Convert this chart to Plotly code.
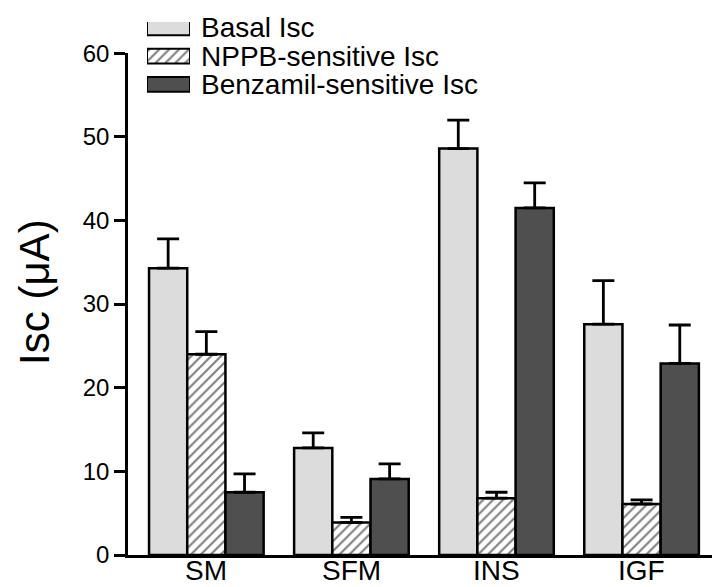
import plotly.graph_objects as go

categories = ["SM", "SFM", "INS", "IGF"]
basal = [34.3, 12.8, 48.6, 27.6]
basal_err = [3.5, 1.8, 3.4, 5.2]
nppb = [24.0, 3.9, 6.8, 6.1]
nppb_err = [2.7, 0.6, 0.7, 0.5]
benz = [7.5, 9.1, 41.5, 22.9]
benz_err = [2.2, 1.8, 3.0, 4.6]
series_names = ["Basal Isc", "NPPB-sensitive Isc", "Benzamil-sensitive Isc"]
yticks = [0, 10, 20, 30, 40, 50, 60]

FONT = "Liberation Sans, Arial, Helvetica, sans-serif"
OFF = 8  # default body margin of the written page
W, H = 720 - OFF, 587 - OFF
AXIS_X, AXIS_Y, TOP_Y, RIGHT_X = 128, 555, 40, 717   # page pixels in the reference
L = AXIS_X - OFF
R = (720 - RIGHT_X)
B = H - (AXIS_Y - OFF)
T = 0
PW, PH = W - L - R, H - T - B

def xpaper(page_x):
    return (page_x - OFF - L) / PW

def ypaper(page_y):
    return (H - B - (page_y - OFF)) / PH

styles = [
    dict(color="#dcdcdc", line=dict(color="black", width=2.5)),
    dict(color="white", line=dict(color="black", width=2.5),
         pattern=dict(shape="/", fgcolor="black", bgcolor="white", size=7, solidity=0.3)),
    dict(color="#4f4f4f", line=dict(color="black", width=2.5)),
]
values = [basal, nppb, benz]
errors = [basal_err, nppb_err, benz_err]

def err(vals):
    return dict(type="data", symmetric=False, array=vals, arrayminus=[0] * len(vals),
                color="black", thickness=2.8, width=11)

fig = go.Figure()
for name, v, e, st in zip(series_names, values, errors, styles):
    fig.add_trace(go.Bar(name=name, x=categories, y=v, error_y=err(e), marker=st,
                         showlegend=False))

# legend boxes drawn as bars on a small auxiliary axis pair
rows = [0, 1, 2]
for r, st in zip(rows, styles):
    st2 = dict(st)
    st2["line"] = dict(color="black", width=2)
    fig.add_trace(go.Bar(x=[1], y=[r], base=0, orientation="h", width=0.52,
                         marker=st2, xaxis="x2", yaxis="y2", showlegend=False,
                         hoverinfo="skip", cliponaxis=False))

leg_top, leg_bot = OFF, 90          # page pixels
row_gap = 29.0
first_row = 14                       # page pixel of first row centre
r0 = -(first_row - leg_top) / row_gap
r1 = r0 + (leg_bot - leg_top) / row_gap

annotations = []
for r, name in zip(rows, series_names):
    annotations.append(dict(text=name, x=xpaper(199), xref="paper", xanchor="left",
                            y=r, yref="y2", yanchor="middle", showarrow=False,
                            font=dict(family=FONT, size=28, color="black")))
for c in categories:
    annotations.append(dict(text=c, x=c, xref="x", y=0, yref="paper", yanchor="middle",
                            yshift=-15, showarrow=False,
                            font=dict(family=FONT, size=28, color="black")))
annotations.append(dict(text="Isc (μA)", textangle=-90, x=xpaper(35), xref="paper",
                        xanchor="center", y=(AXIS_Y - 285) / ((AXIS_Y - TOP_Y) / 60), yref="y",
                        yanchor="middle", showarrow=False,
                        font=dict(family=FONT, size=42, color="black")))

fig.update_layout(
    width=W, height=H,
    margin=dict(l=L, r=R, t=T, b=B),
    paper_bgcolor="white", plot_bgcolor="rgba(0,0,0,0)",
    barmode="group", bargap=0.21, bargroupgap=0,
    font=dict(family=FONT, size=22, color="black"),
    showlegend=False,
    annotations=annotations,
    xaxis=dict(range=[-0.54, 3.52], showline=True, linecolor="black", linewidth=2.5,
               ticks="", showticklabels=False, showgrid=False, zeroline=False),
    yaxis=dict(range=[0, 60], domain=[0, ypaper(TOP_Y)], tickvals=yticks,
               showline=True, linecolor="black", linewidth=2.5,
               ticks="outside", ticklen=11, tickwidth=2.5, tickcolor="black",
               tickfont=dict(size=24), showgrid=False, zeroline=False),
    xaxis2=dict(domain=[xpaper(147), xpaper(190)], range=[0, 1], anchor="y2",
                visible=False, fixedrange=True),
    yaxis2=dict(domain=[ypaper(leg_bot), 1], range=[r1, r0],
                anchor="x2", visible=False, fixedrange=True),
)

fig.write_html("out.html")
